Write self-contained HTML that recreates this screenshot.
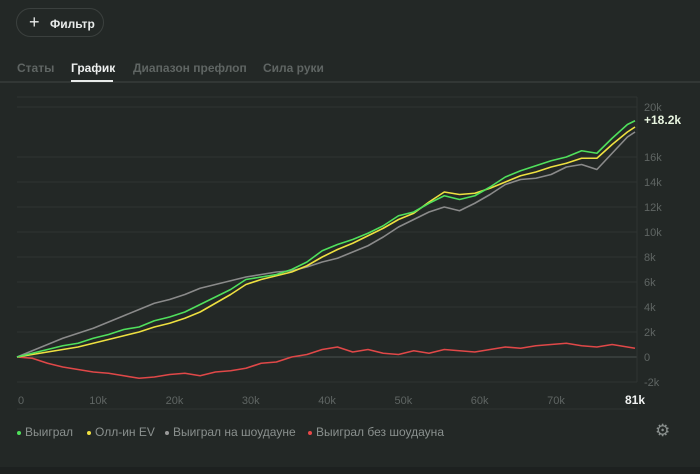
<!DOCTYPE html>
<html><head><meta charset="utf-8"><style>
body{margin:0;width:700px;height:474px;background:#232826;font-family:"Liberation Sans",sans-serif;overflow:hidden;position:relative}
.btn{position:absolute;left:16px;top:8px;width:88px;height:29px;border:1px solid #3b403e;border-radius:15px;color:#e8ebea;font-size:12px;font-weight:bold;box-sizing:border-box}
.tab{position:absolute;top:61px;font-size:12px;font-weight:bold;color:#5f6563}
.leg{position:absolute;top:425px;font-size:12px;color:#8a908e}
.dot{display:inline-block;width:4px;height:4px;border-radius:2px;margin-right:4px;vertical-align:middle}
</style></head><body>
<div class="btn"><span style="position:absolute;left:12px;top:3px;font-size:18px;font-weight:normal">+</span><span style="position:absolute;left:33px;top:8px">Фильтр</span></div>
<div class="tab" style="left:17px">Статы</div>
<div class="tab" style="left:71px;color:#eef0ef">График</div>
<div class="tab" style="left:133px">Диапазон префлоп</div>
<div class="tab" style="left:263px">Сила руки</div>
<div style="position:absolute;left:0;top:81px;width:700px;height:2px;background:#323735"></div>
<div style="position:absolute;left:71px;top:80px;width:42px;height:2px;background:#e8ebea"></div>
<svg id="chart" width="700" height="474" style="position:absolute;left:0;top:0"></svg>
<div class="leg" style="left:17px"><span class="dot" style="background:#4ee05a"></span>Выиграл</div>
<div class="leg" style="left:87px"><span class="dot" style="background:#f0e040"></span>Олл-ин EV</div>
<div class="leg" style="left:165px"><span class="dot" style="background:#9a9a9a"></span>Выиграл на шоудауне</div>
<div class="leg" style="left:308px"><span class="dot" style="background:#e84848"></span>Выиграл без шоудауна</div>
<div style="position:absolute;left:655px;top:421px;color:#8a908e;font-size:17px">⚙</div>
<div style="position:absolute;left:0;top:467px;width:700px;height:7px;background:#1d2120"></div>
<script>
const hands=[0,2,4,6,8,10,12,14,16,18,20,22,24,26,28,30,32,34,36,38,40,42,44,46,48,50,52,54,56,58,60,62,64,66,68,70,72,74,76,78,80,81];
const won=[0,0.3,0.6,0.9,1.1,1.5,1.8,2.2,2.4,2.9,3.2,3.6,4.2,4.8,5.4,6.2,6.4,6.6,7.0,7.6,8.5,9.0,9.4,9.9,10.5,11.3,11.6,12.3,12.9,12.6,12.9,13.6,14.4,14.9,15.3,15.7,16.0,16.5,16.3,17.5,18.6,18.9];
const allinEV=[0,0.2,0.4,0.6,0.8,1.1,1.4,1.7,2.0,2.4,2.7,3.1,3.6,4.3,5.0,5.8,6.2,6.5,6.8,7.3,8.0,8.6,9.1,9.7,10.3,11.0,11.5,12.4,13.2,13.0,13.1,13.5,14.0,14.5,14.8,15.2,15.5,15.9,15.9,17.0,18.0,18.4];
const showdown=[0,0.5,1.0,1.5,1.9,2.3,2.8,3.3,3.8,4.3,4.6,5.0,5.5,5.8,6.1,6.4,6.6,6.8,6.9,7.2,7.6,7.9,8.4,8.9,9.6,10.4,11.0,11.6,12.0,11.7,12.3,13.0,13.8,14.2,14.3,14.6,15.2,15.4,15.0,16.3,17.6,18.0];
const nonShowdown=[0,-0.1,-0.5,-0.8,-1.0,-1.2,-1.3,-1.5,-1.7,-1.6,-1.4,-1.3,-1.5,-1.2,-1.1,-0.9,-0.5,-0.4,0.0,0.2,0.6,0.8,0.4,0.6,0.3,0.2,0.5,0.3,0.6,0.5,0.4,0.6,0.8,0.7,0.9,1.0,1.1,0.9,0.8,1.0,0.8,0.7];
const yTicks=[-2,0,2,4,6,8,10,12,14,16,18,20];
const yTickLabels=["-2k","0","2k","4k","6k","8k","10k","12k","14k","16k","18k","20k"];
const xTicks=[0,10,20,30,40,50,60,70];
const xTickLabels=["0","10k","20k","30k","40k","50k","60k","70k"];
const totalLabel="+18.2k", lastHand="81k";
const NS="http://www.w3.org/2000/svg";
const svg=document.getElementById('chart');
const X=v=>17+v*7.63, Y=v=>357-v*12.5;
function mk(t,a){const e=document.createElementNS(NS,t);for(const k in a)e.setAttribute(k,a[k]);svg.appendChild(e);return e;}
yTicks.forEach((t,i)=>{
  if(t!==18){const l=mk('line',{x1:17,x2:637,y1:Y(t),y2:Y(t),stroke:t===0?'#4a504e':'#2f3432','stroke-width':1});
  
  
  const tx=mk('text',{x:644,y:Y(t)+4,fill:'#5f6563','font-size':11});tx.textContent=yTickLabels[i];
  
  }
});
const topBorder=mk('line',{x1:17,x2:637,y1:97,y2:97,stroke:'#2f3432'});


const rb=mk('line',{x1:637,x2:637,y1:97,y2:382,stroke:'#2f3432'});


const bl=mk('line',{x1:17,x2:637,y1:409,y2:409,stroke:'#2f3432'});


xTicks.forEach((t,i)=>{const tx=mk('text',{x:X(t)+(t===0?1:-4),y:404,fill:'#5f6563','font-size':11});tx.textContent=xTickLabels[i];
  
  });
const lh=mk('text',{x:X(81),y:404,fill:'#f0f2f1','font-size':12,'font-weight':'bold','text-anchor':'middle'});lh.textContent=lastHand;


function series(vals,color,name){
  const p=mk('polyline',{points:vals.map((v,i)=>X(hands[i])+','+Y(v)).join(' '),fill:'none',stroke:color,'stroke-width':1.6,'stroke-linejoin':'round'});
  
  
}
series(nonShowdown,'#e04848','line-non-showdown');
series(showdown,'#8a8a8a','line-showdown');
series(allinEV,'#eee040','line-allin-ev');
series(won,'#50e05c','line-won');
const tl=mk('text',{x:644,y:124,fill:'#e8f5e0','font-size':12,'font-weight':'bold'});tl.textContent=totalLabel;


</script>
</body></html>
